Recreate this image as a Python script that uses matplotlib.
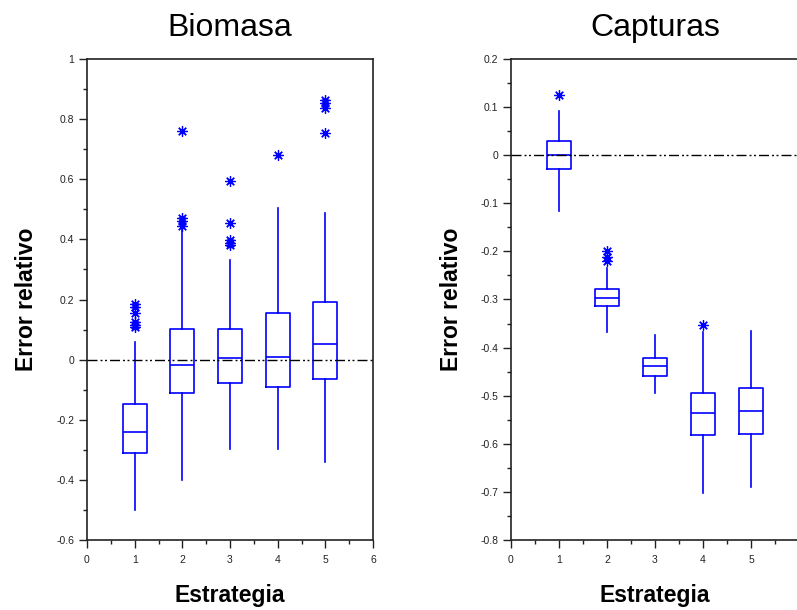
import matplotlib
matplotlib.use('Agg')
import matplotlib.pyplot as plt
from matplotlib.ticker import MultipleLocator, FuncFormatter

plt.rcParams['font.family'] = ['Liberation Sans', 'DejaVu Sans']

# Estrategias
estrategias = [1, 2, 3, 4, 5]

# Biomasa: estadisticos de cada caja
bio_whislo = [-0.50, -0.40, -0.297, -0.297, -0.34]
bio_q1 = [-0.31, -0.11, -0.077, -0.092, -0.064]
bio_med = [-0.241, -0.017, 0.005, 0.01, 0.053]
bio_q3 = [-0.148, 0.103, 0.103, 0.154, 0.193]
bio_whishi = [0.06, 0.442, 0.331, 0.503, 0.487]
bio_fliers = [[0.185, 0.175, 0.155, 0.125, 0.115, 0.11],
              [0.76, 0.47, 0.46, 0.445],
              [0.595, 0.453, 0.398, 0.389, 0.381],
              [0.68],
              [0.864, 0.853, 0.836, 0.753]]

# Capturas: estadisticos de cada caja
cap_whislo = [-0.115, -0.367, -0.494, -0.703, -0.689]
cap_q1 = [-0.029, -0.313, -0.459, -0.581, -0.58]
cap_med = [0.0, -0.296, -0.438, -0.537, -0.531]
cap_q3 = [0.030, -0.279, -0.421, -0.494, -0.485]
cap_whishi = [0.0925, -0.235, -0.374, -0.368, -0.365]
cap_fliers = [[0.1245], [-0.20, -0.211, -0.219], [], [-0.354], []]


def stats(whislo, q1, med, q3, whishi, fliers):
    return [dict(whislo=a, q1=b, med=c, q3=d, whishi=e, fliers=f)
            for a, b, c, d, e, f in zip(whislo, q1, med, q3, whishi, fliers)]


fig = plt.figure(figsize=(7.97, 6.10), dpi=100)
ax1 = fig.add_axes([87 / 797, 70 / 610, 286 / 797, 481 / 610])
ax2 = fig.add_axes([511 / 797, 70 / 610, 288 / 797, 481 / 610])

azul = '#0000ff'
props = dict(color=azul, linewidth=1.2)
flier = dict(marker=(8, 2, 0), markersize=7.5, markeredgecolor=azul,
             markerfacecolor=azul, markeredgewidth=0.9, linestyle='none')

datos = [
    (ax1, stats(bio_whislo, bio_q1, bio_med, bio_q3, bio_whishi, bio_fliers),
     'Biomasa', (-0.6, 1.0), 0.2, 0.1, -0.171),
    (ax2, stats(cap_whislo, cap_q1, cap_med, cap_q3, cap_whishi, cap_fliers),
     'Capturas', (-0.8, 0.2), 0.1, 0.05, -0.167),
]

for ax, st, titulo, ylim, mayor, menor, xlab in datos:
    ax.bxp(st, positions=estrategias, widths=0.5, showcaps=False,
           boxprops=props, whiskerprops=props, medianprops=props,
           flierprops=flier, manage_ticks=False)
    ax.plot([0, 6], [0, 0], color='black', linewidth=1.0,
            linestyle=(0, (7.2, 2.2, 1.4, 1.8, 1.4, 2.2)),
            dash_capstyle='butt', zorder=5)
    ax.set_xlim(0, 6)
    ax.set_ylim(*ylim)
    ax.xaxis.set_major_locator(MultipleLocator(1))
    ax.xaxis.set_minor_locator(MultipleLocator(0.5))
    ax.yaxis.set_major_locator(MultipleLocator(mayor))
    ax.yaxis.set_minor_locator(MultipleLocator(menor))
    ax.xaxis.set_major_formatter(FuncFormatter(lambda v, p: '%g' % round(v, 3)))
    ax.yaxis.set_major_formatter(FuncFormatter(lambda v, p: '%g' % round(v, 3)))
    ax.tick_params(which='major', direction='out', length=6, width=1.0,
                   color='#222222', labelsize=7.5, labelcolor='#222222')
    ax.tick_params(axis='x', which='major', pad=5)
    ax.tick_params(axis='y', which='major', pad=3)
    ax.tick_params(which='minor', direction='out', length=3, width=1.0,
                   color='#222222')
    for s in ax.spines.values():
        s.set_color('#222222')
        s.set_linewidth(1.2)
    ax.set_title(titulo, fontsize=23, pad=16.5)
    ax.set_ylabel('Error relativo', fontsize=16.5, fontweight='bold')
    ax.set_xlabel('Estrategia', fontsize=16.5, fontweight='bold')
    ax.yaxis.set_label_coords(xlab, 0.5)
    ax.xaxis.set_label_coords(0.5, -0.0915)

fig.savefig('out.png', dpi=100)
